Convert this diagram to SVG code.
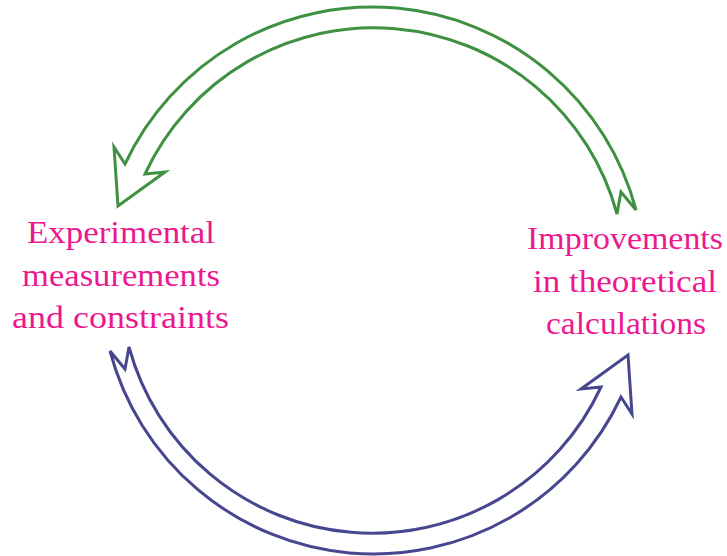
<svg xmlns="http://www.w3.org/2000/svg" width="727" height="556" viewBox="0 0 727 556">
<style>
.lbl{font-family:"Liberation Serif","Times New Roman",serif;font-size:31px;fill:#ec1890;text-anchor:middle}
.arr{fill:none;stroke-width:3;stroke-linejoin:miter}
</style>
<defs>
<path id="cyc" d="M636,210 A273,273 0 0 0 125,164 L114,147 L118,206 L165,172 L145,174 A252,252 0 0 1 617,214 L621,192 Z"/>
</defs>
<g id="connectors">
<use id="green-arrow" href="#cyc" class="arr" stroke="#3f9142"/>
<use id="blue-arrow" href="#cyc" class="arr" stroke="#474790" transform="rotate(180 373 280.5)"/>
</g>
<g id="experimental">
<text class="lbl" x="121" y="243" textLength="188" lengthAdjust="spacingAndGlyphs">Experimental</text>
<text class="lbl" x="121" y="285.5" textLength="198" lengthAdjust="spacingAndGlyphs">measurements</text>
<text class="lbl" x="120.5" y="328" textLength="217" lengthAdjust="spacingAndGlyphs">and constraints</text>
</g>
<g id="theoretical">
<text class="lbl" x="625" y="249" textLength="196" lengthAdjust="spacingAndGlyphs">Improvements</text>
<text class="lbl" x="625" y="291.5" textLength="184" lengthAdjust="spacingAndGlyphs">in theoretical</text>
<text class="lbl" x="626" y="334" textLength="160" lengthAdjust="spacingAndGlyphs">calculations</text>
</g>
</svg>
